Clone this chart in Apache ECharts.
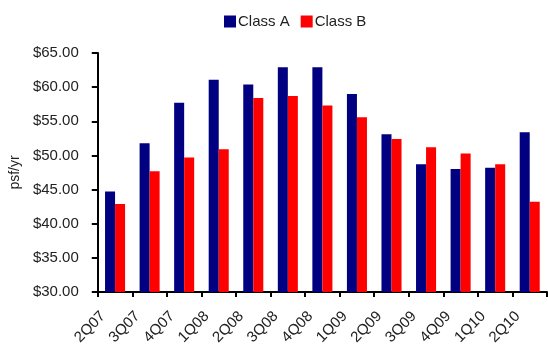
<!DOCTYPE html>
<html>
<head>
<meta charset="utf-8">
<script src="https://cdn.jsdelivr.net/npm/echarts@6/dist/echarts.min.js"></script>
<style>
  html, body { margin: 0; padding: 0; background: #fff; }
  #chart { width: 548px; height: 348px; }
</style>
</head>
<body>
<div id="chart"></div>
<script>
// quarters on the x axis
const quarters = ["2Q07", "3Q07", "4Q07", "1Q08", "2Q08", "3Q08", "4Q08",
  "1Q09", "2Q09", "3Q09", "4Q09", "1Q10", "2Q10"];
// asking rents, psf/yr
const classA = [44.7, 51.8, 57.7, 61.1, 60.4, 62.9, 62.9, 59.0, 53.1, 48.7, 48.0, 48.2, 53.4];
const classB = [42.9, 47.7, 49.7, 50.9, 58.4, 58.7, 57.3, 55.6, 52.4, 51.2, 50.3, 48.7, 43.2];

const font = "Liberation Sans, Arial, sans-serif";
const chart = echarts.init(document.getElementById("chart"));

chart.setOption({
  animation: false,
  textStyle: { fontFamily: font, color: "#222" },
  legend: {
    top: 9,
    left: 219,
    itemWidth: 12,
    itemHeight: 12,
    itemGap: 11,
    icon: "rect",
    textStyle: { fontSize: 15, color: "#222", padding: [0, 0, 0, -3] },
    data: ["Class A", "Class B"]
  },
  grid: { left: 96, right: 1, top: 53, bottom: 56 },
  xAxis: {
    type: "category",
    data: quarters,
    axisLine: { lineStyle: { color: "#000", width: 2 } },
    axisTick: { show: true, length: 5, lineStyle: { color: "#000", width: 2 } },
    axisLabel: {
      rotate: 45, fontSize: 15, color: "#222", margin: 10, interval: 0,
      padding: [0, 17, 0, 0]
    }
  },
  yAxis: {
    type: "value",
    min: 30,
    max: 65,
    interval: 5,
    name: "psf/yr",
    nameLocation: "middle",
    nameGap: 75,
    nameTextStyle: { fontSize: 14, color: "#222" },
    splitLine: { show: false },
    axisLine: { show: true, lineStyle: { color: "#000", width: 2 } },
    axisTick: { show: true, length: 6, lineStyle: { color: "#000", width: 2 } },
    axisLabel: {
      fontSize: 15,
      color: "#222",
      margin: 19,
      formatter: v => "$" + v.toFixed(2)
    }
  },
  series: [
    {
      name: "Class A",
      type: "bar",
      data: classA,
      barWidth: "29%",
      barGap: "0%",
      itemStyle: { color: "#000080" }
    },
    {
      name: "Class B",
      type: "bar",
      data: classB,
      barWidth: "29%",
      itemStyle: { color: "#ff0000" }
    }
  ]
});
</script>
</body>
</html>
